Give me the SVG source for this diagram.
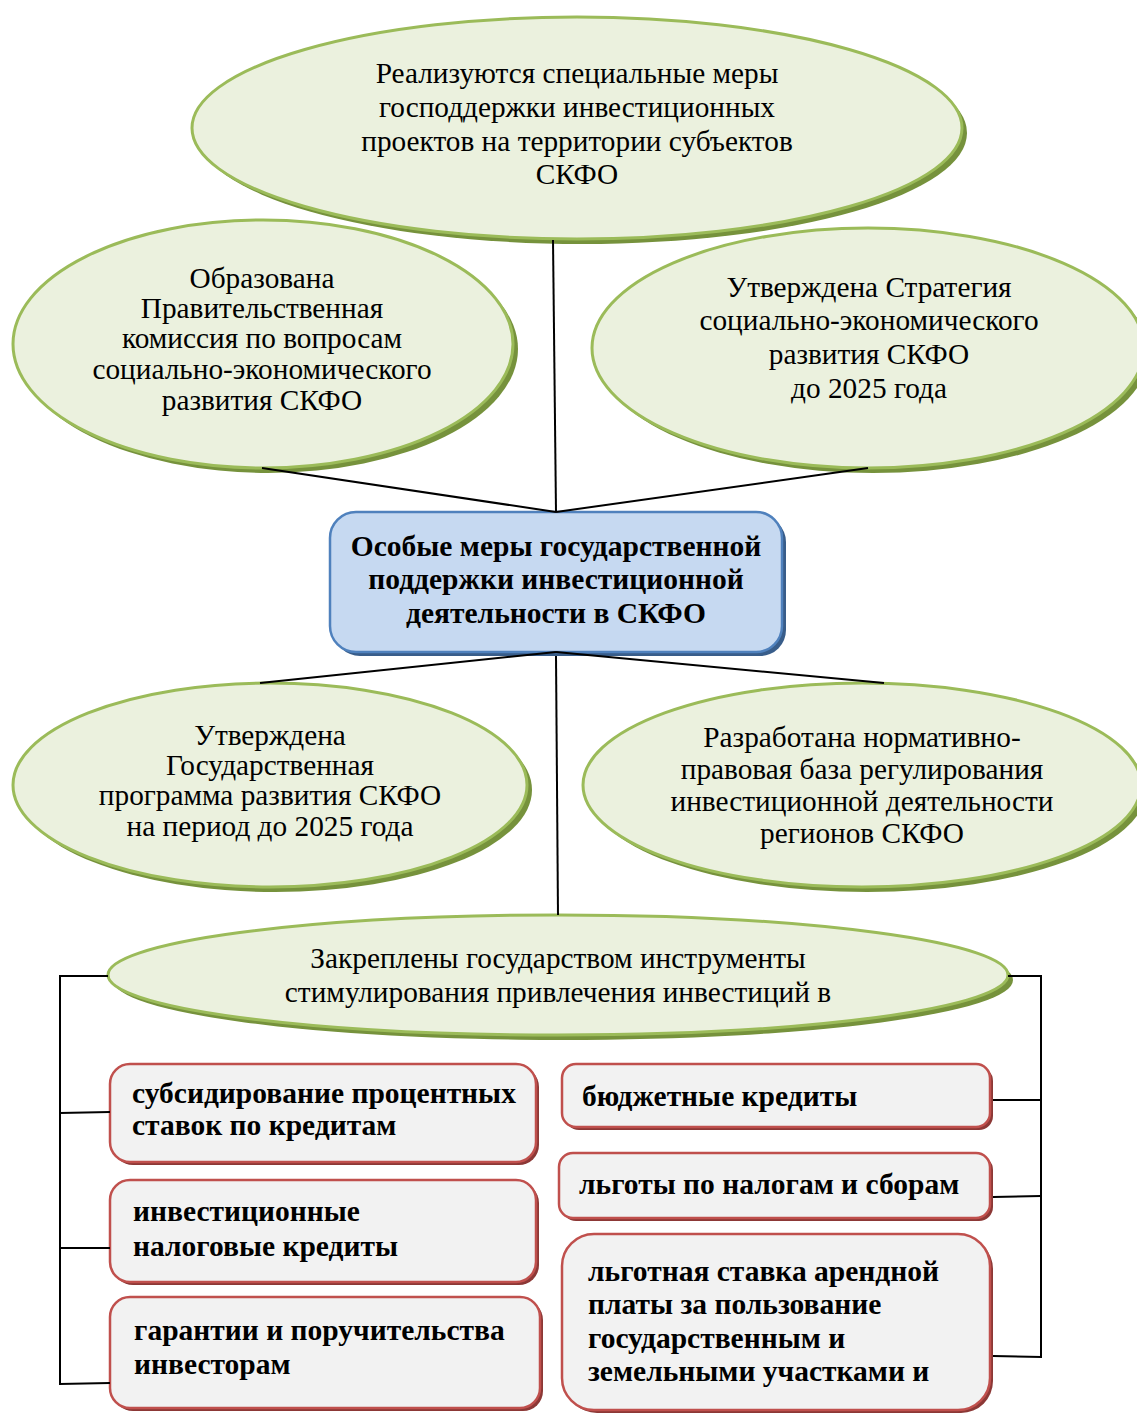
<svg xmlns="http://www.w3.org/2000/svg" width="1137" height="1414" viewBox="0 0 1137 1414">
<style>
.ell{fill:#ebf1de;stroke:#9bbb59;stroke-width:3}
.ellsh{fill:#76923c}
.ctr{fill:#c6d9f1;stroke:#4f81bd;stroke-width:2.5}
.ctrsh{fill:#385d8a}
.box{fill:#f2f2f2;stroke:#c0504d;stroke-width:2.5}
.boxsh{fill:#8c3836}
.t{font-family:"Liberation Serif","Times New Roman",serif;font-size:29.3px;fill:#000;text-anchor:middle}
.tb{font-family:"Liberation Serif","Times New Roman",serif;font-size:29.5px;font-weight:bold;fill:#000}
.c{fill:none;stroke:#000;stroke-width:2}
</style>
<rect width="1137" height="1414" fill="#fff"/>
<g id="n-top">
<ellipse class="ellsh" cx="582" cy="133" rx="385" ry="111"/>
<ellipse class="ell" cx="577" cy="128" rx="385" ry="111"/>
<text class="t" x="577" y="83">Реализуются специальные меры</text>
<text class="t" x="577" y="117">господдержки инвестиционных</text>
<text class="t" x="577" y="151">проектов на территории субъектов</text>
<text class="t" x="577" y="184">СКФО</text>
</g>
<g id="n-left">
<ellipse class="ellsh" cx="268" cy="349" rx="250" ry="124"/>
<ellipse class="ell" cx="263" cy="344" rx="250" ry="124"/>
<text class="t" x="262" y="288">Образована</text>
<text class="t" x="262" y="318">Правительственная</text>
<text class="t" x="262" y="348">комиссия по вопросам</text>
<text class="t" x="262" y="379">социально-экономического</text>
<text class="t" x="262" y="410">развития СКФО</text>
</g>
<g id="n-right">
<ellipse class="ellsh" cx="873" cy="353" rx="276" ry="120"/>
<ellipse class="ell" cx="868" cy="348" rx="276" ry="120"/>
<text class="t" x="869" y="297">Утверждена Стратегия</text>
<text class="t" x="869" y="330">социально-экономического</text>
<text class="t" x="869" y="364">развития СКФО</text>
<text class="t" x="869" y="398">до 2025 года</text>
</g>
<g id="n-center">
<rect class="ctrsh" x="334" y="516" width="452" height="140" rx="26"/>
<rect class="ctr" x="330" y="512" width="452" height="140" rx="26"/>
<text class="tb" x="556" y="556" text-anchor="middle">Особые меры государственной</text>
<text class="tb" x="556" y="589" text-anchor="middle">поддержки инвестиционной</text>
<text class="tb" x="556" y="623" text-anchor="middle">деятельности в СКФО</text>
</g>
<g id="n-midleft">
<ellipse class="ellsh" cx="275" cy="790" rx="257" ry="102"/>
<ellipse class="ell" cx="270" cy="785" rx="257" ry="102"/>
<text class="t" x="270" y="745">Утверждена</text>
<text class="t" x="270" y="775">Государственная</text>
<text class="t" x="270" y="805">программа развития СКФО</text>
<text class="t" x="270" y="836">на период до 2025 года</text>
</g>
<g id="n-midright">
<ellipse class="ellsh" cx="867" cy="790" rx="279" ry="102"/>
<ellipse class="ell" cx="862" cy="785" rx="279" ry="102"/>
<text class="t" x="862" y="747">Разработана нормативно-</text>
<text class="t" x="862" y="779">правовая база регулирования</text>
<text class="t" x="862" y="811">инвестиционной деятельности</text>
<text class="t" x="862" y="843">регионов СКФО</text>
</g>
<g id="n-bottom">
<ellipse class="ellsh" cx="563" cy="980" rx="450" ry="60"/>
<ellipse class="ell" cx="558" cy="975" rx="450" ry="60"/>
<text class="t" x="558" y="968">Закреплены государством инструменты</text>
<text class="t" x="558" y="1002">стимулирования привлечения инвестиций в</text>
</g>
<g id="b-l1">
<rect class="boxsh" x="113" y="1067" width="426" height="98" rx="20"/>
<rect class="box" x="110" y="1064" width="426" height="98" rx="20"/>
<text class="tb" x="132" y="1103">субсидирование процентных</text>
<text class="tb" x="132" y="1135">ставок по кредитам</text>
</g>
<g id="b-l2">
<rect class="boxsh" x="113" y="1183" width="426" height="102" rx="20"/>
<rect class="box" x="110" y="1180" width="426" height="102" rx="20"/>
<text class="tb" x="133" y="1221">инвестиционные</text>
<text class="tb" x="133" y="1256">налоговые кредиты</text>
</g>
<g id="b-l3">
<rect class="boxsh" x="113" y="1300" width="430" height="111" rx="20"/>
<rect class="box" x="110" y="1297" width="430" height="111" rx="20"/>
<text class="tb" x="134" y="1340">гарантии и поручительства</text>
<text class="tb" x="134" y="1374">инвесторам</text>
</g>
<g id="b-r1">
<rect class="boxsh" x="565" y="1067" width="428" height="63" rx="14"/>
<rect class="box" x="562" y="1064" width="428" height="63" rx="14"/>
<text class="tb" x="582" y="1106">бюджетные кредиты</text>
</g>
<g id="b-r2">
<rect class="boxsh" x="562" y="1156" width="431" height="65" rx="14"/>
<rect class="box" x="559" y="1153" width="431" height="65" rx="14"/>
<text class="tb" x="579" y="1194">льготы по налогам и сборам</text>
</g>
<g id="b-r3">
<rect class="boxsh" x="565" y="1237" width="428" height="176" rx="32"/>
<rect class="box" x="562" y="1234" width="428" height="176" rx="32"/>
<text class="tb" x="588" y="1281">льготная ставка арендной</text>
<text class="tb" x="588" y="1314">платы за пользование</text>
<text class="tb" x="588" y="1348">государственным и</text>
<text class="tb" x="588" y="1381">земельными участками и</text>
</g>
<g id="connectors">
<line class="c" x1="553" y1="240" x2="556" y2="512"/>
<line class="c" x1="262" y1="468" x2="556" y2="512"/>
<line class="c" x1="868" y1="468" x2="556" y2="512"/>
<line class="c" x1="556" y1="652" x2="260" y2="683"/>
<line class="c" x1="556" y1="652" x2="884" y2="683"/>
<line class="c" x1="556" y1="656" x2="558" y2="915"/>
<polyline class="c" points="108,976 60,976 60,1384 110,1383"/>
<line class="c" x1="60" y1="1113" x2="110" y2="1112"/>
<line class="c" x1="60" y1="1248" x2="110" y2="1248"/>
<polyline class="c" points="1008,976 1041,976 1041,1357 993,1356"/>
<line class="c" x1="993" y1="1100" x2="1041" y2="1100"/>
<line class="c" x1="993" y1="1197" x2="1041" y2="1196"/>
</g>
</svg>
